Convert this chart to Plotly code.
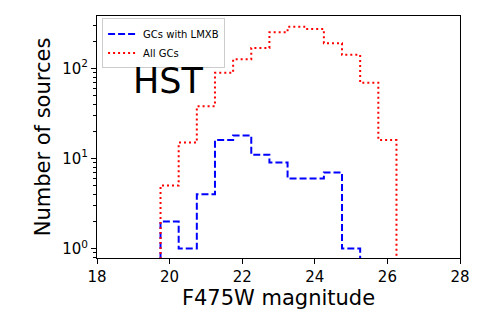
import plotly.graph_objects as go

bin_edges = [19.75, 20.25, 20.75, 21.25, 21.75, 22.25, 22.75, 23.25, 23.75,
             24.25, 24.75, 25.25, 25.75, 26.25]
lmxb_counts = [2, 1, 4, 16, 18, 11, 9, 6, 6, 7, 1, 0, 0]
all_counts = [5, 15, 38, 89, 126, 168, 251, 288, 273, 190, 141, 69, 16]

x_ticks = [18, 20, 22, 24, 26, 28]
y_ticks = [1, 10, 100]
y_ticktext = ["10<sup>0</sup>", "10<sup>1</sup>", "10<sup>2</sup>"]

FLOOR = 1e-3  # zero-count bins drop below the visible log range


def step_xy(edges, counts):
    xs = [edges[0]] + list(edges)
    ys = [FLOOR] + [c if c > 0 else FLOOR for c in counts] + [FLOOR]
    return xs, ys


fig = go.Figure()
bx, by = step_xy(bin_edges, lmxb_counts)
fig.add_trace(go.Scatter(x=bx, y=by, mode="lines", line_shape="hv",
                         name="GCs with LMXB",
                         line=dict(color="blue", width=2, dash="7px,3px")))
rx, ry = step_xy(bin_edges, all_counts)
fig.add_trace(go.Scatter(x=rx, y=ry, mode="lines", line_shape="hv",
                         name="All GCs",
                         line=dict(color="red", width=2, dash="2px,3px")))

font = "DejaVu Sans"
fig.update_layout(
    width=477, height=315,
    margin=dict(l=89, r=25, t=8, b=65),
    plot_bgcolor="white", paper_bgcolor="white",
    font=dict(family=font, color="black"),
    showlegend=True,
    legend=dict(x=0.014, y=0.99, xanchor="left", yanchor="top",
                bgcolor="rgba(255,255,255,0.8)", bordercolor="#cccccc",
                borderwidth=1, font=dict(size=10, family=font),
                tracegroupgap=0, itemwidth=30),
    annotations=[dict(text="HST", x=0.093, y=0.73, xref="paper", yref="paper",
                      xanchor="left", yanchor="middle", showarrow=False,
                      font=dict(size=35, family=font, color="black"))],
)
fig.update_xaxes(range=[18, 28], tickvals=x_ticks, ticks="outside", ticklen=5,
                 tickwidth=1, tickcolor="black", showline=True, linecolor="black",
                 linewidth=1, mirror=True, showgrid=False, zeroline=False,
                 tickfont=dict(size=15), automargin=False,
                 title=dict(text="F475W magnitude", font=dict(size=21), standoff=2))
fig.update_yaxes(type="log", range=[-0.104, 2.58], tickvals=y_ticks,
                 ticktext=y_ticktext, ticks="outside", ticklen=5, tickwidth=1,
                 tickcolor="black", showline=True, linecolor="black", linewidth=1,
                 mirror=True, showgrid=False, zeroline=False,
                 tickfont=dict(size=15), automargin=False,
                 minor=dict(ticks="outside", ticklen=3, tickwidth=0.8,
                            tickcolor="black", dtick="D1", showgrid=False),
                 title=dict(text="Number of sources", font=dict(size=21), standoff=5))

fig.write_html("out.html")
